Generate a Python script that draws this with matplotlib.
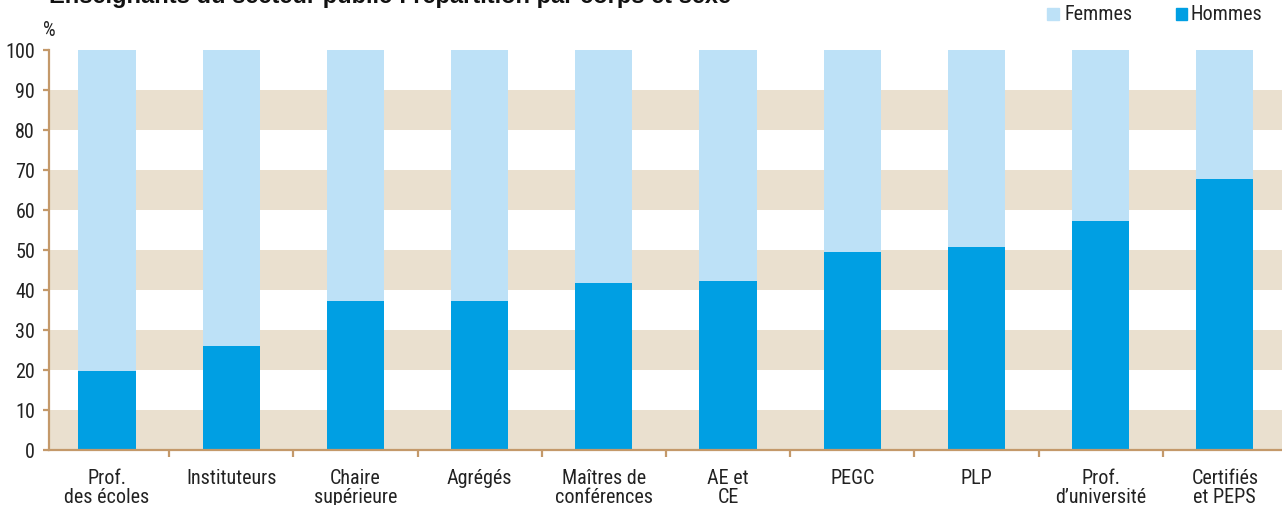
import matplotlib.pyplot as plt
import matplotlib.font_manager as fm
import numpy as np

# Données (en %)
categories = ['Prof.\ndes écoles', 'Instituteurs', 'Chaire\nsupérieure', 'Agrégés',
              'Maîtres de\nconférences', 'AE et\nCE', 'PEGC', 'PLP',
              'Prof.\nd\u2019université', 'Certifiés\net PEPS']
hommes = [19.8, 26.0, 37.3, 37.3, 41.8, 42.3, 49.5, 50.8, 57.3, 67.8]
femmes = [80.2, 74.0, 62.7, 62.7, 58.2, 57.7, 50.5, 49.2, 42.7, 32.2]
y_ticks = [0, 10, 20, 30, 40, 50, 60, 70, 80, 90, 100]

color_hommes = '#009FE3'
color_femmes = '#BDE1F7'
color_band = '#EAE0CF'
color_axis = '#C4996A'
color_text = '#222222'


def first_font(candidates):
    # première police étroite disponible
    for name in candidates:
        try:
            fm.findfont(fm.FontProperties(family=name), fallback_to_default=False)
            return name
        except ValueError:
            continue
    return 'DejaVu Sans'


narrow = first_font(['Nimbus Sans Narrow', 'Liberation Sans Narrow', 'Roboto Condensed',
                     'Archivo Narrow', 'Barlow Semi Condensed'])
plt.rcParams['font.family'] = [narrow, 'DejaVu Sans']

W, H = 1282, 506
fig = plt.figure(figsize=(W / 100, H / 100), dpi=100)

# Axes : y=0 à 451 px, y=100 à 51 px, axe gauche à 49 px
ax = fig.add_axes([49 / W, (H - 451) / H, (W - 49) / W, 400 / H])

x = np.arange(len(categories))
bar_width = 0.46

# Bandes beiges horizontales
for low in range(0, 100, 20):
    ax.axhspan(low, low + 10, color=color_band, zorder=0, lw=0)

ax.bar(x, hommes, width=bar_width, color=color_hommes, zorder=2, label='Hommes')
ax.bar(x, femmes, width=bar_width, bottom=hommes, color=color_femmes, zorder=2, label='Femmes')

ax.set_xlim(-0.467, 9.46)
ax.set_ylim(0, 100)

for side in ['top', 'right']:
    ax.spines[side].set_visible(False)
for side in ['left', 'bottom']:
    ax.spines[side].set_color(color_axis)
    ax.spines[side].set_linewidth(1.6)
    ax.spines[side].set_zorder(3)

ax.set_yticks(y_ticks)
ax.tick_params(axis='y', direction='out', length=4, width=1.6, color=color_axis,
               labelsize=14.5, pad=6, labelcolor=color_text)

ax.set_xticks(x)
ax.set_xticklabels(categories, fontsize=14.5, linespacing=1.0, color=color_text)
ax.tick_params(axis='x', which='major', length=0, pad=13)
ax.set_xticks(x[:-1] + 0.5, minor=True)
ax.tick_params(axis='x', which='minor', direction='out', length=5, width=1.6, color=color_axis)

# Unité
fig.text(43 / W, 1 - 30 / H, '%', fontsize=14.5, ha='left', va='center', color=color_text)

# Titre (coupé en haut)
fig.text(49 / W, 1 - 3 / H, 'Enseignants du secteur public : répartition par corps et sexe',
         fontsize=17, fontweight='bold', family=['Liberation Sans', 'DejaVu Sans'],
         ha='left', va='baseline', color='#111111')

# Légende
fig.patches.append(plt.Rectangle((1047 / W, 1 - 21 / H), 12 / W, 12 / H,
                                 transform=fig.transFigure, color=color_femmes))
fig.text(1065 / W, 1 - 15 / H, 'Femmes', fontsize=14.5, ha='left', va='center', color=color_text)
fig.patches.append(plt.Rectangle((1176 / W, 1 - 21 / H), 11 / W, 12 / H,
                                 transform=fig.transFigure, color=color_hommes))
fig.text(1190 / W, 1 - 15 / H, 'Hommes', fontsize=14.5, ha='left', va='center', color=color_text)

fig.savefig('out.png', dpi=100)
